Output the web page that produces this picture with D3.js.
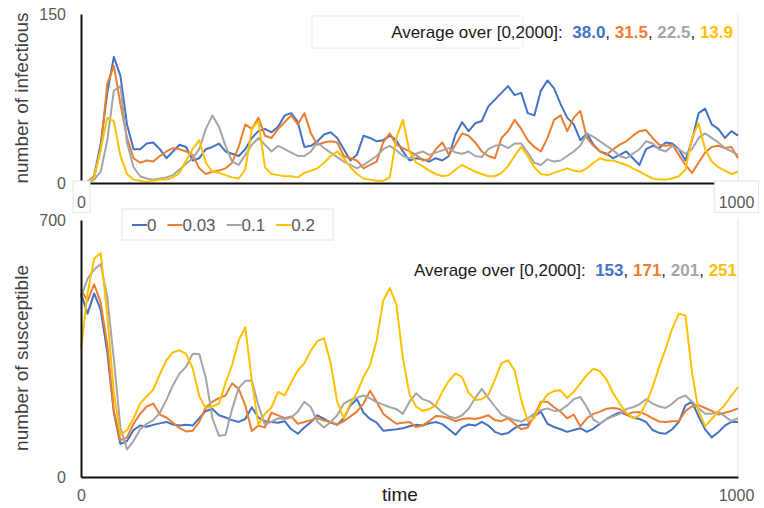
<!DOCTYPE html>
<html>
<head>
<meta charset="utf-8">
<script src="https://cdn.jsdelivr.net/npm/d3@7"></script>
<style>
  body { margin: 0; background: #fff; }
  svg { display: block; }
  text { font-family: "Liberation Sans", Arial, Helvetica, sans-serif; }
</style>
</head>
<body>
<svg id="chart" width="764" height="508"></svg>
<script>
// series names, colours and the averages printed in the panels
var series = ["0", "0.03", "0.1", "0.2"];
var colors = ["#4472c4", "#ed7d31", "#a5a5a5", "#ffc000"];
var infAvg = ["38.0", "31.5", "22.5", "13.9"];
var susAvg = ["153", "171", "201", "251"];

// sampled every 10 time units, 0..1000
var time = d3.range(0, 1001, 10);

// number of infectious, one array per rate
var inf0 = [0,1,6,35,80,112,95,52,30,30,35,36,30,22,28,34,32,20,22,30,32,35,28,26,24,30,40,46,48,45,
  50,60,62,54,32,33,37,43,45,40,30,20,25,42,40,37,38,42,38,28,20,22,21,19,22,20,24,43,54,46,
  53,55,68,74,80,86,78,80,62,60,82,91,84,70,58,52,38,44,34,28,26,22,25,28,22,16,30,33,31,36,
  35,30,20,38,62,66,52,48,40,46,42];
var inf003 = [0,1,5,30,88,104,70,40,22,18,20,19,24,28,31,30,28,25,13,8,10,11,13,18,32,52,48,58,42,40,
  48,54,60,52,62,44,34,36,37,36,24,22,20,13,16,19,36,44,34,31,28,25,20,21,30,36,25,34,44,42,
  36,28,24,22,40,46,56,48,38,32,28,40,56,60,46,58,64,40,33,28,25,30,34,37,42,46,47,40,34,33,
  34,25,16,9,18,27,32,33,31,32,22];
var inf01 = [0,0,3,10,38,82,86,36,14,6,4,3,4,5,7,12,17,22,30,48,60,50,33,19,16,25,34,40,34,28,
  33,30,27,24,24,28,36,31,27,23,19,16,13,16,20,24,30,33,29,24,22,26,28,25,27,29,31,27,26,28,
  24,23,30,33,34,31,35,35,27,18,16,21,19,20,24,28,33,44,41,37,33,29,24,22,26,30,37,35,30,28,
  33,30,26,30,40,44,40,36,31,28,25];
var inf02 = [0,0,5,30,58,55,24,8,3,2,1,2,3,3,5,9,20,30,38,18,10,9,7,5,4,12,48,55,14,8,
  7,6,6,5,9,11,13,18,24,28,22,14,8,4,3,2,2,5,40,56,28,18,15,11,8,6,7,12,16,13,
  10,8,6,6,9,15,24,32,24,14,8,7,9,11,13,11,10,13,18,22,20,20,18,16,13,10,7,4,3,3,
  4,6,12,40,53,30,19,14,11,8,10];

// number of susceptible, one array per rate
var sus0 = [500,445,500,455,340,175,90,98,128,140,137,142,146,150,143,140,142,140,160,180,185,168,162,155,150,158,190,162,152,150,
  148,152,130,118,135,150,168,158,148,142,160,195,212,175,158,148,126,128,130,133,138,142,140,146,150,144,130,115,135,143,
  140,150,140,123,116,120,133,142,142,165,178,145,136,130,123,128,133,123,132,145,158,168,176,170,162,158,150,128,120,118,
  130,150,195,205,165,130,108,122,140,150,150];
var sus003 = [510,480,525,475,360,180,100,108,145,172,192,200,170,162,148,133,124,126,150,190,205,215,222,255,240,195,125,140,135,175,
  168,160,165,145,150,155,160,154,150,143,152,165,178,200,235,205,172,158,145,148,150,136,140,152,166,165,160,152,158,160,
  158,162,168,155,152,160,145,130,135,168,205,205,190,178,160,170,138,160,172,178,186,188,185,170,176,177,170,160,151,150,
  152,152,180,192,196,188,180,170,175,180,187];
var sus01 = [490,540,565,580,490,320,135,75,98,130,145,155,175,210,250,282,300,336,335,270,160,112,115,185,242,262,262,195,142,151,
  160,158,162,178,205,190,150,135,150,168,200,210,216,222,214,204,197,190,185,172,205,228,212,206,192,176,165,160,168,186,
  215,240,215,192,170,162,155,151,160,172,182,187,180,182,195,212,218,190,156,145,158,165,172,185,190,198,212,200,192,188,
  200,215,222,205,187,172,172,178,165,152,160];
var sus02 = [350,500,595,610,440,230,115,128,160,200,220,238,280,318,340,345,335,296,220,188,192,200,256,305,372,408,262,142,172,190,
  232,222,258,290,310,345,370,378,310,205,160,200,230,272,305,372,480,515,470,323,225,192,180,185,196,232,262,282,272,230,
  210,212,224,265,310,318,290,210,152,160,200,225,234,236,215,232,255,278,295,288,265,228,200,175,160,168,200,245,300,350,
  405,445,440,285,180,138,158,178,196,222,245];

var infSeries = [inf0, inf003, inf01, inf02];
var susSeries = [sus0, sus003, sus01, sus02];

var svg = d3.select("#chart");
var x = d3.scaleLinear().domain([0, 1000]).range([81, 738]);

// draw one panel: axes, lines and the average text
function panel(opt) {
  var y = d3.scaleLinear().domain([0, opt.max]).range([opt.bottom, opt.top]);

  // faint right frame
  svg.append("line")
    .attr("x1", 738).attr("x2", 738)
    .attr("y1", opt.frameTop).attr("y2", opt.bottom)
    .attr("stroke", "#e3e3e3").attr("stroke-width", 1);

  var line = d3.line()
    .x(function(d, i) { return x(time[i]); })
    .y(function(d) { return y(d); });

  opt.data.forEach(function(s, i) {
    svg.append("path")
      .attr("d", line(s))
      .attr("fill", "none")
      .attr("stroke", colors[i])
      .attr("stroke-width", 2)
      .attr("stroke-linejoin", "round");
  });

  var yAxis = svg.append("g")
    .attr("transform", "translate(81,0)")
    .call(d3.axisLeft(y).tickValues([0, opt.max]).tickFormat(d3.format("d"))
      .tickSize(0).tickSizeOuter(0).tickPadding(15));
  var xAxis = svg.append("g")
    .attr("transform", "translate(0," + opt.bottom + ")")
    .call(d3.axisBottom(x).tickValues([0, 1000]).tickFormat(d3.format("d"))
      .tickSize(0).tickSizeOuter(0).tickPadding(opt.xPad));

  [yAxis, xAxis].forEach(function(a) {
    a.attr("font-family", null);
    a.select(".domain").attr("stroke", "#111").attr("stroke-width", 2);
    a.selectAll("text").attr("fill", "#595959").style("font-size", "16px");
  });
  xAxis.selectAll(".tick text").attr("dx", function(d) { return d == 1000 ? "-2" : "0"; });

  // axis title
  svg.append("text")
    .attr("transform", "translate(" + 28 + "," + opt.titleY + ") rotate(-90)")
    .attr("text-anchor", "middle")
    .attr("fill", "#404040")
    .style("font-size", "19px")
    .text(opt.title);

  // average annotation
  var t = svg.append("text")
    .attr("x", opt.avgX).attr("y", opt.avgY)
    .attr("text-anchor", "end")
    .style("font-size", "17px")
    .style("white-space", "pre");
  t.append("tspan").attr("fill", "#1a1a1a").text("Average over [0,2000]:  ");
  opt.avg.forEach(function(v, i) {
    t.append("tspan").attr("fill", colors[i]).attr("font-weight", "bold").text(v);
    if (i < opt.avg.length - 1) t.append("tspan").attr("fill", "#1a1a1a").text(", ");
  });
  return xAxis;
}

var topAxis = panel({ max: 150, top: 14, bottom: 183, frameTop: 14, data: infSeries, xPad: 14,
  title: "number of infectious", titleY: 98, avg: infAvg, avgX: 733, avgY: 38 });

// leftover faint boxes around the top panel's texts
svg.insert("rect", ":first-child")
  .attr("x", 312).attr("y", 16).attr("width", 211).attr("height", 32)
  .attr("fill", "none").attr("stroke", "#ececec");
topAxis.selectAll(".tick").each(function(d) {
  var b = this.getBBox();
  d3.select(this).insert("rect", ":first-child")
    .attr("x", b.x - 4).attr("y", b.y - 2)
    .attr("width", b.width + 8).attr("height", b.height + 3)
    .attr("fill", "#fff").attr("stroke", "#e6e6e6");
});

panel({ max: 700, top: 220, bottom: 477, frameTop: 218, data: susSeries, xPad: 13,
  title: "number of susceptible", titleY: 358, avg: susAvg, avgX: 737, avgY: 276 });

svg.append("text")
  .attr("x", 400).attr("y", 501)
  .attr("text-anchor", "middle")
  .attr("fill", "#1a1a1a")
  .style("font-size", "19px")
  .text("time");

// legend
var legend = svg.append("g");
legend.append("rect")
  .attr("x", 122).attr("y", 209).attr("width", 211).attr("height", 31)
  .attr("fill", "#fff").attr("stroke", "#e3e3e3");
var lx = 132;
series.forEach(function(name, i) {
  legend.append("line")
    .attr("x1", lx).attr("x2", lx + 15)
    .attr("y1", 225).attr("y2", 225)
    .attr("stroke", colors[i]).attr("stroke-width", 2);
  var label = legend.append("text")
    .attr("x", lx + 15).attr("y", 231)
    .attr("fill", "#595959")
    .style("font-size", "17px")
    .text(name);
  lx += 15 + label.node().getComputedTextLength() + 11;
});
</script>
</body>
</html>
